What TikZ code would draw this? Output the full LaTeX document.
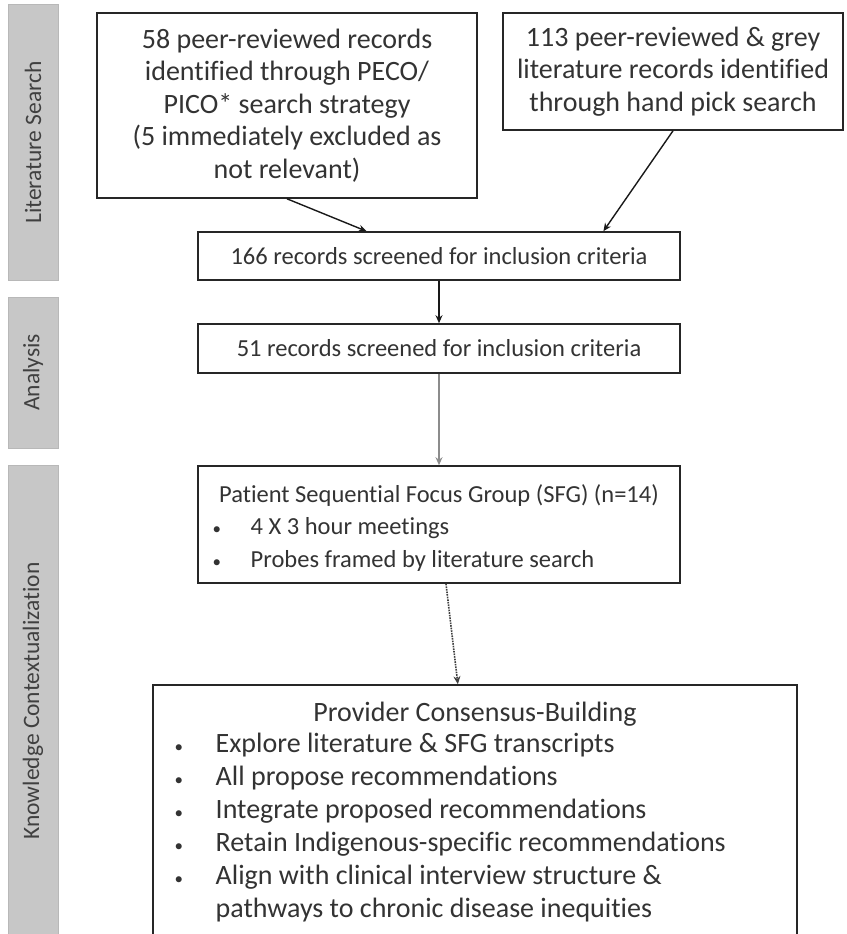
\documentclass[tikz,border=0pt]{standalone}
\usepackage{fontspec}
\setmainfont{Carlito}[Ligatures={NoCommon,NoContextual}, Contextuals=NoAlternate]
\usetikzlibrary{positioning, arrows.meta, calc}

\begin{document}
\begin{tikzpicture}[x=1pt, y=-1pt, >={Stealth[length=8pt,width=7pt]}, line width=1.4pt]
	\tikzstyle{phase}=[draw=black!28, line width=1pt, fill=black!22, text=black!75, rotate=90, minimum height=50pt, inner sep=0pt, font=\fontsize{23.5}{28}\selectfont]
	\tikzstyle{box}=[draw=black!85, line width=1.6pt, fill=white, inner sep=0pt, text=black!80, align=center, font=\fontsize{28}{32.5}\selectfont]
	\tikzstyle{small box}=[box, font=\fontsize{24.5}{30}\selectfont]
	\tikzstyle{item}=[anchor=west, inner sep=0pt, text=black!80, text height=18pt, text depth=6pt, font=\fontsize{28}{32}\selectfont]
	\tikzstyle{small item}=[item, font=\fontsize{24.5}{30}\selectfont]
	\tikzstyle{dot}=[item, font=\fontsize{17}{20}\selectfont]
	\tikzstyle{flow}=[->, draw=black!90]

	\useasboundingbox (0,0) rectangle (846,934);
	\clip (0,0) rectangle (846,934);

	% Phases
	\node[phase, minimum width=275pt] (P-1) at (33,142.5) {Literature Search};
	\node[phase, minimum width=151pt] (P-2) at (33,372.5) {Analysis};
	\node[phase, minimum width=472pt] (P-3) at (33,701) {Knowledge Contextualization};

	% Search boxes
	\node[box, minimum width=380pt, minimum height=185pt] (B-1) at (287,105.5) {58 peer-reviewed records\\identified through PECO/\\PICO* search strategy\\(5 immediately excluded as\\not relevant)};
	\node[box, minimum width=340pt, minimum height=117pt] (B-2) at (673,71.5) {113 peer-reviewed \& grey\\literature records identified\\through hand pick search};

	% Screening
	\node[small box, minimum width=482pt, minimum height=48pt] (B-3) at (439,256) {166 records screened for inclusion criteria};
	\node[small box, minimum width=482pt, minimum height=49pt] (B-4) at (439,348.5) {51 records screened for inclusion criteria};

	% Focus group
	\node[box, minimum width=482pt, minimum height=117pt] (B-5) at (439,524.5) {};
	\node[small item, anchor=center] (T-5) at (439,496) {Patient Sequential Focus Group (SFG) (n=14)};
	\foreach \name / \y / \txt in {1/528/{4 X 3 hour meetings}, 2/561/{Probes framed by literature search}}{
		\node[dot] (D-5-\name) at (212,\y) {\textbullet};
		\node[small item] (I-5-\name) at (250,\y) {\txt};
	}

	% Consensus building
	\node[box, minimum width=644pt, minimum height=290pt] (B-6) at (475,830) {};
	\node[item, anchor=center] (T-6) at (475,715) {Provider Consensus-Building};
	\foreach \name / \y / \txt in {1/746/{Explore literature \& SFG transcripts}, 2/779/{All propose recommendations}, 3/812/{Integrate proposed recommendations}, 4/845/{Retain Indigenous-specific recommendations}, 5/878/{Align with clinical interview structure \&}}{
		\node[dot] (D-6-\name) at (174,\y) {\textbullet};
		\node[item] (I-6-\name) at (215,\y) {\txt};
	}
	\node[item] (I-6-6) at (215,911) {pathways to chronic disease inequities};

	% Edges
	\draw[flow] (B-1.south) -- ($(B-3.north west)!0.35!(B-3.north east)$);
	\draw[flow] (B-2.south) -- ($(B-3.north west)!0.84!(B-3.north east)$);
	\draw[flow] (B-3) -- (B-4);
	\draw[flow, draw=black!45] (B-4) -- (B-5);
	\draw[flow, densely dotted, line width=1.6pt, draw=black!75] (B-5) -- (B-6);
\end{tikzpicture}
\end{document}
